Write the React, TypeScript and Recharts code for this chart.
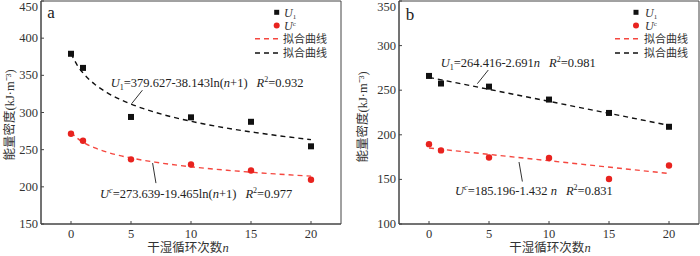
import React from 'react';
import {
  ComposedChart,
  Scatter,
  Line,
  XAxis,
  YAxis,
  ReferenceArea,
  ReferenceLine,
  ReferenceDot,
  Legend,
} from 'recharts';

const FONT = "'Liberation Serif','Times New Roman','Noto Sans CJK SC',serif";
const BLACK = '#111111';
const RED = '#e8231f';
const RED_LINE = '#f5473f';
const AXIS = '#444444';
const TEXT = '#333333';

// ---- data ----
const cycles = [0, 1, 5, 10, 15, 20];
const aU1 = [379, 360, 294, 293.5, 287.5, 254.5];
const aUc = [271.5, 262, 237, 230, 222, 209.5];
const bU1 = [266, 257.5, 254, 239.5, 224.5, 209];
const bUc = [189.5, 182.5, 174.5, 174, 150.5, 165.5];

const aFitN = [0, 0.5, 1, 2, 3, 4, 5, 7, 10, 13, 15, 17, 20];
const aFitU1 = [379.6, 364.2, 353.2, 337.7, 326.7, 318.2, 311.3, 300.3, 288.2, 279.0, 273.9, 269.4, 263.5];
const aFitUc = [273.6, 265.7, 260.1, 252.3, 246.7, 242.3, 238.8, 233.2, 227.0, 222.3, 219.7, 217.4, 214.4];
const bFitN = [0, 20];
const bFitU1 = [264.4, 210.6];
const bFitUc = [185.2, 156.6];

const xTicks = [0, 5, 10, 15, 20];
const aYTicks = [150, 200, 250, 300, 350, 400, 450];
const bYTicks = [100, 150, 200, 250, 300, 350];
const xDomain: [number, number] = [-2.5, 22.5];
const aYDomain: [number, number] = [150, 450];
const bYDomain: [number, number] = [100, 350];

const toRows = (xs: number[], ys: number[]) => xs.map((n, i) => ({ n, v: ys[i] }));

// ---- shapes ----
const Square = (p: any) => (
  <rect x={p.cx - 3} y={p.cy - 3} width={6} height={6} fill={BLACK} />
);
const Dot = (p: any) => <circle cx={p.cx} cy={p.cy} r={3.2} fill={RED} />;

type Seg = { t: string; i?: boolean; sub?: boolean; sup?: boolean; dx?: number };

const eqLabel = (segs: Seg[]) => (props: any) => {
  const vb = props.viewBox || { x: 0, y: 0, width: 0, height: 0 };
  const x = vb.x + (vb.width || 0) / 2;
  const y = vb.y + (vb.height || 0) / 2 + 4.5;
  let shift = 0;
  const spans = segs.map((s, k) => {
    const target = s.sub ? 3 : s.sup ? -5 : 0;
    const dy = target - shift;
    shift = target;
    return (
      <tspan
        key={k}
        dy={dy}
        dx={s.dx}
        fontStyle={s.i ? 'italic' : undefined}
        fontSize={s.sub || s.sup ? 8 : undefined}
      >
        {s.t}
      </tspan>
    );
  });
  return (
    <text x={x} y={y} fontFamily={FONT} fontSize={12.5} fill="#222">
      {spans}
    </text>
  );
};

const letterLabel = (letter: string) => (props: any) => {
  const vb = props.viewBox || { x: 0, y: 0, width: 0, height: 0 };
  return (
    <text
      x={vb.x + (vb.width || 0) / 2}
      y={vb.y + (vb.height || 0) / 2}
      textAnchor="middle"
      dominantBaseline="central"
      fontFamily={FONT}
      fontSize={17}
      fill="#222"
    >
      {letter}
    </text>
  );
};

const yLabel = (cx: number, cy: number) => () => (
  <text
    x={cx}
    y={cy}
    transform={`rotate(-90, ${cx}, ${cy})`}
    textAnchor="middle"
    dominantBaseline="central"
    fontFamily={FONT}
    fontSize={12.5}
    fill={TEXT}
  >
    能量密度(kJ·m⁻³)
  </text>
);

const xLabel = (cx: number, cy: number) => () => (
  <text
    x={cx}
    y={cy}
    textAnchor="middle"
    dominantBaseline="central"
    fontFamily={FONT}
    fontSize={12.5}
    fill={TEXT}
  >
    干湿循环次数<tspan fontStyle="italic">n</tspan>
  </text>
);

const YTick = (p: any) => (
  <text
    x={p.x}
    y={Math.max(p.y, 7)}
    textAnchor="end"
    dominantBaseline="central"
    fontFamily={FONT}
    fontSize={12.5}
    fill={TEXT}
  >
    {p.payload.value}
  </text>
);

const LegendBox = ({ mx, dx0, tx }: { mx: number; dx0: number; tx: number }) => (
  <svg width={100} height={60} style={{ display: 'block', overflow: 'visible' }}>
    <rect x={mx - 2.5} y={5.8} width={5} height={5} fill={BLACK} />
    <text x={tx} y={12.8} fontFamily={FONT} fontSize={12} fill={TEXT}>
      <tspan fontStyle="italic">U</tspan>
      <tspan fontSize={7} dy={2.5}>1</tspan>
    </text>
    <circle cx={mx} cy={21.5} r={3} fill={RED} />
    <text x={tx} y={26} fontFamily={FONT} fontSize={12} fill={TEXT}>
      <tspan fontStyle="italic">U</tspan>
      <tspan fontSize={7} dy={-4}>c</tspan>
    </text>
    <line x1={dx0} x2={dx0 + 24} y1={34.8} y2={34.8} stroke={RED_LINE} strokeWidth={1.5} strokeDasharray="5 4" />
    <text x={tx - 1} y={38.8} fontFamily={FONT} fontSize={11} fill={TEXT}>
      拟合曲线
    </text>
    <line x1={dx0} x2={dx0 + 24} y1={48.9} y2={48.9} stroke={BLACK} strokeWidth={1.5} strokeDasharray="5 4" />
    <text x={tx - 1} y={52.9} fontFamily={FONT} fontSize={11} fill={TEXT}>
      拟合曲线
    </text>
  </svg>
);

const tickStyle = { fill: TEXT, fontSize: 12.5, fontFamily: FONT };

const PanelA = () => (
  <ComposedChart width={350} height={256} margin={{ top: 1, right: 9, bottom: 0, left: 0 }}>
    <XAxis
      type="number"
      dataKey="n"
      domain={xDomain}
      ticks={xTicks}
      interval={0}
      allowDataOverflow
      height={32}
      tickSize={-3}
      tickMargin={8}
      stroke={AXIS}
      tick={tickStyle}
      label={{ content: xLabel(188, 248) }}
    />
    <YAxis
      type="number"
      dataKey="v"
      domain={aYDomain}
      ticks={aYTicks}
      interval={0}
      allowDataOverflow
      width={41}
      tickSize={-3}
      tickMargin={6}
      stroke={AXIS}
      tick={YTick}
      label={{ content: yLabel(10, 115) }}
    />
    <ReferenceArea x1={-2.5} x2={22.5} y1={150} y2={450} fill="none" stroke={AXIS} strokeWidth={1} />
    <Legend
      layout="vertical"
      align="center"
      verticalAlign="middle"
      wrapperStyle={{ left: 250, top: 4, width: 100, height: 60 }}
      content={() => <LegendBox mx={26.7} dx0={5} tx={34} />}
    />
    <Line data={toRows(aFitN, aFitU1)} dataKey="v" type="monotone" stroke={BLACK} strokeWidth={1.4} strokeDasharray="5 4" dot={false} isAnimationActive={false} />
    <Line data={toRows(aFitN, aFitUc)} dataKey="v" type="monotone" stroke={RED_LINE} strokeWidth={1.4} strokeDasharray="5 4" dot={false} isAnimationActive={false} />
    <Scatter data={toRows(cycles, aU1)} dataKey="v" shape={Square} isAnimationActive={false} />
    <Scatter data={toRows(cycles, aUc)} dataKey="v" shape={Dot} isAnimationActive={false} />
    <ReferenceLine segment={[{ x: 5.06, y: 312 }, { x: 5.95, y: 330 }]} stroke="#333" strokeWidth={1} />
    <ReferenceLine segment={[{ x: 6.8, y: 232 }, { x: 7.08, y: 205 }]} stroke="#333" strokeWidth={1} />
    <ReferenceDot
      x={3.31}
      y={340}
      r={1}
      fill="none"
      stroke="none"
      label={{
        content: eqLabel([
          { t: 'U', i: true },
          { t: '1', sub: true },
          { t: '=379.627-38.143ln(' },
          { t: 'n', i: true },
          { t: '+1)' },
          { t: 'R', i: true, dx: 9 },
          { t: '2', sup: true },
          { t: '=0.932' },
        ]),
      }}
    />
    <ReferenceDot
      x={2.42}
      y={190.5}
      r={1}
      fill="none"
      stroke="none"
      label={{
        content: eqLabel([
          { t: 'U', i: true },
          { t: 'c', sup: true, i: true },
          { t: '=273.639-19.465ln(' },
          { t: 'n', i: true },
          { t: '+1)' },
          { t: 'R', i: true, dx: 9 },
          { t: '2', sup: true },
          { t: '=0.977' },
        ]),
      }}
    />
    <ReferenceDot x={-1.67} y={434} r={1} fill="none" stroke="none" label={{ content: letterLabel('a') }} />
  </ComposedChart>
);

const PanelB = () => (
  <ComposedChart width={350} height={256} margin={{ top: 1, right: 1, bottom: 0, left: 0 }}>
    <XAxis
      type="number"
      dataKey="n"
      domain={xDomain}
      ticks={xTicks}
      interval={0}
      allowDataOverflow
      height={32}
      tickSize={-3}
      tickMargin={8}
      stroke={AXIS}
      tick={tickStyle}
      label={{ content: xLabel(200, 248) }}
    />
    <YAxis
      type="number"
      dataKey="v"
      domain={bYDomain}
      ticks={bYTicks}
      interval={0}
      allowDataOverflow
      width={49}
      tickSize={-3}
      tickMargin={6}
      stroke={AXIS}
      tick={YTick}
      label={{ content: yLabel(13, 117) }}
    />
    <ReferenceArea x1={-2.5} x2={22.5} y1={100} y2={350} fill="none" stroke={AXIS} strokeWidth={1} />
    <Legend
      layout="vertical"
      align="center"
      verticalAlign="middle"
      wrapperStyle={{ left: 258, top: 4, width: 100, height: 60 }}
      content={() => <LegendBox mx={28} dx0={7} tx={37} />}
    />
    <Line data={toRows(bFitN, bFitU1)} dataKey="v" type="linear" stroke={BLACK} strokeWidth={1.4} strokeDasharray="5 4" dot={false} isAnimationActive={false} />
    <Line data={toRows(bFitN, bFitUc)} dataKey="v" type="linear" stroke={RED_LINE} strokeWidth={1.4} strokeDasharray="5 4" dot={false} isAnimationActive={false} />
    <Scatter data={toRows(cycles, bU1)} dataKey="v" shape={Square} isAnimationActive={false} />
    <Scatter data={toRows(cycles, bUc)} dataKey="v" shape={Dot} isAnimationActive={false} />
    <ReferenceLine segment={[{ x: 4.03, y: 257.3 }, { x: 4.94, y: 272.6 }]} stroke="#333" strokeWidth={1} />
    <ReferenceLine segment={[{ x: 7.5, y: 169.5 }, { x: 7.78, y: 147.6 }]} stroke="#333" strokeWidth={1} />
    <ReferenceDot
      x={0.98}
      y={281}
      r={1}
      fill="none"
      stroke="none"
      label={{
        content: eqLabel([
          { t: 'U', i: true },
          { t: '1', sub: true },
          { t: '=264.416-2.691' },
          { t: 'n', i: true },
          { t: 'R', i: true, dx: 9 },
          { t: '2', sup: true },
          { t: '=0.981' },
        ]),
      }}
    />
    <ReferenceDot
      x={2.17}
      y={137.2}
      r={1}
      fill="none"
      stroke="none"
      label={{
        content: eqLabel([
          { t: 'U', i: true },
          { t: 'c', sup: true, i: true },
          { t: '=185.196-1.432 ' },
          { t: 'n', i: true },
          { t: 'R', i: true, dx: 9 },
          { t: '2', sup: true },
          { t: '=0.831' },
        ]),
      }}
    />
    <ReferenceDot x={-1.58} y={335.4} r={1} fill="none" stroke="none" label={{ content: letterLabel('b') }} />
  </ComposedChart>
);

export default function App() {
  return (
    <div
      style={{
        position: 'absolute',
        left: 0,
        top: 0,
        width: 700,
        height: 256,
        display: 'flex',
        background: '#fff',
      }}
    >
      <PanelA />
      <PanelB />
    </div>
  );
}
